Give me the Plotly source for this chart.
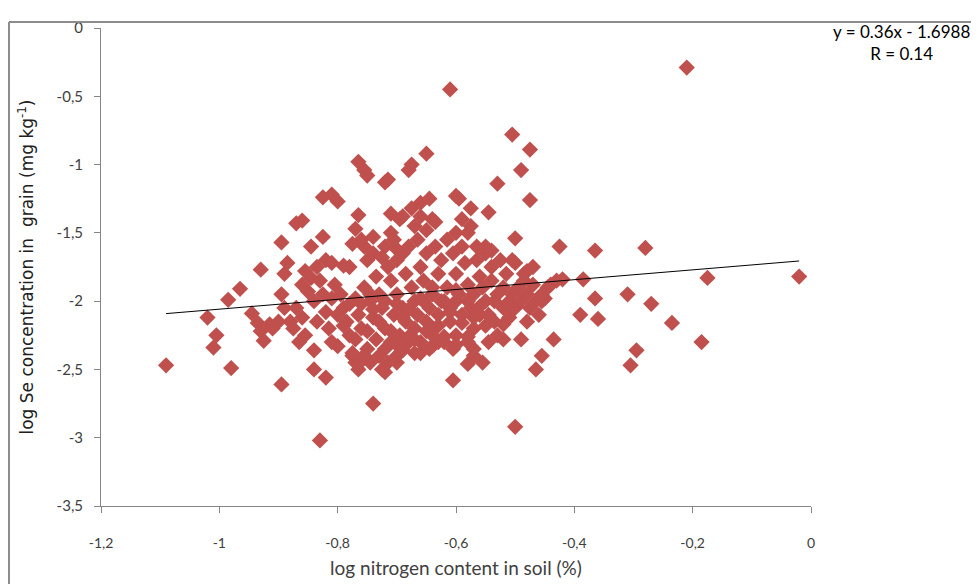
import plotly.graph_objects as go

# ---- data ----
x_outer = [-1.09, -1.02, -1.005, -1.01, -0.98, -0.985, -0.965, -0.945, -0.93, -0.935, -0.93, -0.925,
           -0.915, -0.895, -0.895, -0.89, -0.885, -0.87, -0.86, -0.875, -0.88, -0.855, -0.86, -0.845,
           -0.84, -0.84, -0.83, -0.825, -0.82, -0.825, -0.81, -0.81, -0.8, -0.79, -0.77, -0.765,
           -0.755, -0.75, -0.765, -0.74, -0.74, -0.72, -0.715, -0.71, -0.7, -0.69, -0.68, -0.675,
           -0.66, -0.65, -0.645, -0.64, -0.61, -0.6, -0.595, -0.605, -0.58, -0.575, -0.545, -0.53,
           -0.505, -0.5, -0.5, -0.49, -0.475, -0.475, -0.505, -0.48, -0.48, -0.49, -0.465, -0.455,
           -0.455, -0.435, -0.425, -0.42, -0.39, -0.385, -0.365, -0.365, -0.36, -0.31, -0.305, -0.295,
           -0.28, -0.27, -0.235, -0.21, -0.185, -0.175, -0.02, -0.52, -0.52, -0.57, -0.58, -0.57,
           -0.72, -0.7, -0.64, -0.63]
y_outer = [-2.47, -2.12, -2.25, -2.34, -2.49, -1.99, -1.91, -2.09, -1.77, -2.16, -2.22, -2.29,
           -2.17, -2.61, -1.57, -1.80, -1.72, -1.43, -1.41, -2.20, -2.15, -1.78, -1.88, -1.60,
           -2.36, -2.50, -3.02, -1.53, -2.56, -1.24, -1.72, -1.22, -1.27, -1.74, -1.47, -0.98,
           -1.04, -1.08, -1.37, -2.75, -1.53, -1.13, -1.11, -1.36, -1.62, -1.38, -1.04, -1.00,
           -1.28, -0.92, -1.25, -1.40, -0.45, -1.23, -1.25, -2.58, -1.50, -1.32, -1.35, -1.14,
           -0.78, -1.54, -2.92, -1.04, -0.89, -1.26, -1.70, -1.78, -2.15, -2.28, -2.50, -2.40,
           -2.00, -2.28, -1.60, -1.84, -2.10, -1.84, -1.63, -1.98, -2.13, -1.95, -2.47, -2.36,
           -1.61, -2.02, -2.16, -0.29, -2.30, -1.83, -1.82, -2.28, -2.17, -2.40, -2.46, -2.35,
           -2.52, -2.45, -2.33, -2.30]

x_core = [-0.87, -0.86, -0.855, -0.85, -0.84, -0.835, -0.83, -0.825, -0.82, -0.815, -0.81, -0.805,
          -0.80, -0.80, -0.81, -0.845, -0.835, -0.82, -0.865, -0.89, -0.90, -0.895, -0.91,
          -0.795, -0.79, -0.785, -0.78, -0.78, -0.775, -0.77, -0.765, -0.76, -0.77, -0.765, -0.76,
          -0.755, -0.75, -0.745, -0.75, -0.755, -0.745, -0.74, -0.735, -0.74, -0.735, -0.745, -0.76, -0.775,
          -0.73, -0.725, -0.72, -0.72, -0.715, -0.71, -0.71, -0.705, -0.70, -0.70, -0.695, -0.69, -0.69,
          -0.685, -0.68, -0.685, -0.70, -0.72, -0.725, -0.71, -0.695, -0.705, -0.715, -0.73, -0.725,
          -0.675, -0.67, -0.67, -0.665, -0.66, -0.66, -0.655, -0.655, -0.65, -0.65, -0.645, -0.64, -0.64,
          -0.635, -0.63, -0.63, -0.625, -0.625, -0.665, -0.67, -0.66, -0.65, -0.635, -0.645, -0.67, -0.68, -0.675,
          -0.615, -0.61, -0.61, -0.605, -0.60, -0.60, -0.60, -0.595, -0.59, -0.59, -0.585, -0.58, -0.58,
          -0.575, -0.57, -0.57, -0.565, -0.56, -0.56, -0.615, -0.60, -0.59, -0.62, -0.605, -0.565, -0.575,
          -0.555, -0.55, -0.55, -0.545, -0.54, -0.54, -0.535, -0.53, -0.53, -0.525, -0.52, -0.52, -0.515,
          -0.51, -0.51, -0.505, -0.50, -0.545, -0.535, -0.55, -0.54, -0.555,
          -0.495, -0.49, -0.485, -0.48, -0.475, -0.47, -0.465, -0.46, -0.455, -0.45, -0.445, -0.47,
          -0.44, -0.43, -0.50, -0.485,
          -0.79, -0.77, -0.75, -0.73, -0.71, -0.69, -0.67, -0.65, -0.63, -0.61, -0.59, -0.57, -0.55,
          -0.78, -0.76, -0.74, -0.72, -0.70, -0.68, -0.66, -0.64, -0.62, -0.60, -0.58, -0.56,
          -0.775, -0.765, -0.755, -0.70, -0.69, -0.68, -0.66, -0.64, -0.62, -0.60, -0.58]
y_core = [-2.05, -2.12, -2.25, -1.93, -2.00, -2.15, -1.85, -1.95, -2.08, -2.20, -1.98, -1.88,
          -2.33, -2.10, -2.30, -1.83, -1.75, -1.70, -2.30, -2.05, -2.15, -1.95, -2.20,
          -1.95, -2.05, -2.15, -2.25, -1.75, -2.40, -2.45, -2.50, -2.42, -1.98, -2.10, -2.20,
          -1.90, -2.35, -2.45, -1.70, -1.60, -2.00, -2.12, -2.28, -1.65, -1.82, -1.95, -1.55, -1.58,
          -1.95, -2.05, -2.20, -2.35, -1.75, -1.85, -2.30, -2.10, -2.40, -1.95, -2.25, -2.05, -1.65,
          -2.15, -2.30, -1.80, -1.70, -1.60, -1.68, -1.50, -1.40, -1.55, -2.45, -2.40, -2.50,
          -1.90, -2.00, -2.20, -2.10, -2.30, -1.75, -1.85, -2.00, -2.15, -1.65, -2.05, -1.95, -2.25,
          -1.60, -1.80, -2.10, -2.00, -1.70, -1.55, -1.45, -1.38, -1.48, -1.42, -2.35, -2.38, -1.60, -1.32,
          -1.90, -2.05, -2.15, -1.65, -1.80, -2.00, -2.25, -1.95, -2.10, -1.60, -1.72, -2.30, -1.88,
          -2.05, -1.95, -2.20, -1.70, -1.82, -2.10, -1.55, -1.50, -1.40, -2.30, -2.35, -1.60, -1.45,
          -1.90, -2.00, -1.65, -2.10, -1.75, -1.85, -2.00, -1.95, -2.25, -1.70, -1.90, -2.05, -1.80,
          -2.00, -2.12, -1.95, -2.05, -2.30, -2.15, -1.60, -1.63, -2.45,
          -1.90, -2.00, -1.85, -1.95, -2.05, -1.88, -2.00, -2.10, -1.95, -1.98, -1.90, -1.75,
          -1.88, -1.85, -1.72, -1.80,
          -2.18, -2.28, -2.22, -2.15, -2.22, -2.12, -2.28, -2.22, -2.18, -2.08, -2.16, -2.12, -2.18,
          -2.02, -2.02, -2.06, -2.00, -2.02, -2.06, -1.98, -1.90, -2.00, -1.92, -2.00, -2.04,
          -2.38, -2.46, -2.40, -2.32, -2.36, -2.26, -2.38, -2.20, -2.26, -2.32, -2.26]

x_all = x_outer + x_core
y_all = y_outer + y_core

slope, intercept = 0.36, -1.6988
trend_x = [min(x_all), max(x_all)]
trend_y = [slope * v + intercept for v in trend_x]

x_tickvals = [-1.2, -1.0, -0.8, -0.6, -0.4, -0.2, 0.0]
x_ticktext = ["-1,2", "-1", "-0,8", "-0,6", "-0,4", "-0,2", "0"]
y_tickvals = [0, -0.5, -1.0, -1.5, -2.0, -2.5, -3.0, -3.5]
y_ticktext = ["0", "-0,5", "-1", "-1,5", "-2", "-2,5", "-3", "-3,5"]

fig = go.Figure()
fig.add_trace(go.Scatter(
    x=x_all, y=y_all, mode="markers",
    marker=dict(symbol="diamond", size=12.5, color="#C0504D", line=dict(width=0)),
    showlegend=False, hoverinfo="x+y"))
fig.add_trace(go.Scatter(
    x=trend_x, y=trend_y, mode="lines",
    line=dict(color="black", width=1), showlegend=False, hoverinfo="skip"))

axis_col = "#868686"
tick_font = dict(family="Lato, sans-serif", size=15, color="#404040")
fig.update_xaxes(range=[-1.2, 0], tickmode="array", tickvals=x_tickvals,
                 ticktext=["<br>" + t for t in x_ticktext],
                 showgrid=False, zeroline=False, showline=True, linecolor=axis_col, linewidth=1,
                 ticks="outside", ticklen=6, tickcolor=axis_col,
                 tickfont=dict(family="Lato, sans-serif", size=14, color="#404040"),
                 title=dict(text="log nitrogen content in soil (%)",
                            font=dict(family="Lato, sans-serif", size=19, color="#404040"),
                            standoff=11))
fig.update_yaxes(range=[-3.5, 0], tickmode="array", tickvals=y_tickvals, ticktext=y_ticktext,
                 showgrid=False, zeroline=False, showline=True, linecolor=axis_col, linewidth=1,
                 ticks="outside", ticklen=6, tickcolor=axis_col, tickfont=tick_font,
                 ticklabelstandoff=8,
                 title=dict(text="log Se concentration in  grain (mg kg<sup>-1</sup>)",
                            font=dict(family="DejaVu Sans, sans-serif", size=17, color="#202020"),
                            standoff=18))

fig.update_layout(
    width=971, height=576,
    margin=dict(l=93, r=168, t=20, b=78, autoexpand=False),
    plot_bgcolor="white", paper_bgcolor="white",
    shapes=[
        dict(type="line", xref="paper", yref="paper", x0=-0.1296, x1=-0.1296, y0=-0.2, y1=1.0126,
             line=dict(color="#8c8c8c", width=2)),
        dict(type="line", xref="paper", yref="paper", x0=-0.1296, x1=1.3, y0=1.0126, y1=1.0126,
             line=dict(color="#8c8c8c", width=2)),
    ],
    annotations=[
        dict(xref="paper", yref="paper", x=1.128, y=0.969, xanchor="center", yanchor="middle",
             text="y = 0.36x - 1.6988<br>R = 0.14", showarrow=False, align="center",
             font=dict(family="Lato, sans-serif", size=17, color="black")),
    ],
)

fig.write_html("out.html")
